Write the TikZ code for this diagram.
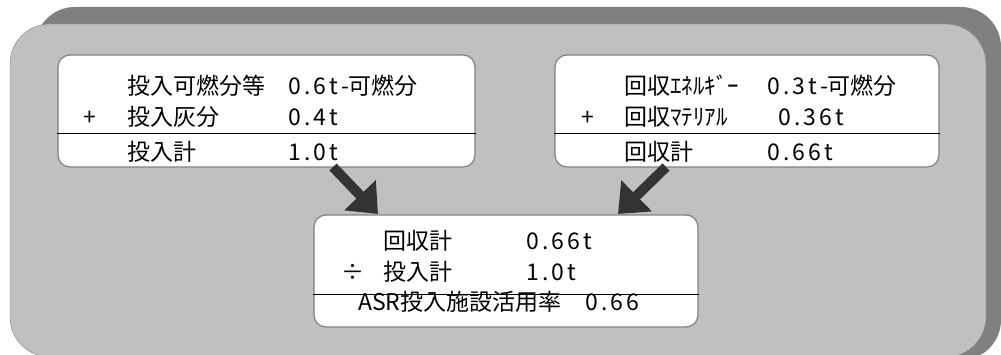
\documentclass[tikz,border=0pt]{standalone}
\usepackage{fontspec}
\setmainfont{Noto Sans CJK JP}
\newfontfamily\jpfont{Noto Sans CJK JP}
\newfontfamily\numfont{Noto Sans CJK JP}[LetterSpace=14]
\usetikzlibrary{arrows.meta,positioning,calc}
\definecolor{shadowgray}{HTML}{808080}
\definecolor{panelgray}{HTML}{C0C0C0}
\definecolor{arrowgray}{HTML}{333333}
\tikzset{
  sumbox/.style={draw=shadowgray,line width=1.2pt,fill=white,rounded corners=12pt,minimum width=#1,minimum height=112pt,inner sep=0pt},
  txt/.style={anchor=west,inner sep=0pt,font=\fontsize{23}{23}\selectfont,text height=0.88em,text depth=0.12em},
  num/.style={txt,font=\fontsize{23}{23}\selectfont\numfont},
  rule/.style={line width=1.2pt},
  flow/.style={arrowgray,line width=10pt,-{Triangle[length=26pt,width=42pt]}}
}

\begin{document}
\begin{tikzpicture}[x=1pt,y=-1pt]
  \useasboundingbox (0,0) rectangle (1001,355);
  \clip (0,0) rectangle (1001,355);
  \fill[shadowgray,rounded corners=40pt] (35,7) rectangle (1001,360);
  \draw[shadowgray,fill=panelgray,rounded corners=40pt] (10,24) rectangle (986,357);

  \node [sumbox=417pt] (input) at (266.5,111) {};
  \node [sumbox=384pt] (recovery) at (747,111) {};
  \node [sumbox=384pt] (rate) at (506,271) {};

  \draw [rule] ($(input.north west)+(0,79)$) -- ($(input.north east)+(0,79)$);
  \draw [rule] ($(recovery.north west)+(0,79)$) -- ($(recovery.north east)+(0,79)$);
  \draw [rule] ($(rate.north west)+(0,80)$) -- ($(rate.north east)+(0,80)$);

  \node [txt] (inA) at (127,91) {投入可燃分等};
  \node [num] (inAv) at (288,91) {0.6t-{\jpfont 可燃分}};
  \node [txt] (inPlus) at (83,122) {+};
  \node [txt] (inB) at (127,122) {投入灰分};
  \node [num] (inBv) at (288,122) {0.4t};
  \node [txt] (inSum) at (127,157) {投入計};
  \node [num] (inSumv) at (288,157) {1.0t};

  \node [txt] (recA) at (624,91) {回収ｴﾈﾙｷﾞｰ};
  \node [num] (recAv) at (767,91) {0.3t-{\jpfont 可燃分}};
  \node [txt] (recPlus) at (581,122) {+};
  \node [txt] (recB) at (624,122) {回収ﾏﾃﾘｱﾙ};
  \node [num] (recBv) at (778,122) {0.36t};
  \node [txt] (recSum) at (624,157) {回収計};
  \node [num] (recSumv) at (767,157) {0.66t};

  \node [txt] (rateA) at (383,246) {回収計};
  \node [num] (rateAv) at (526,246) {0.66t};
  \node [txt] (rateDiv) at (341,277) {÷};
  \node [txt] (rateB) at (383,277) {投入計};
  \node [num] (rateBv) at (526,277) {1.0t};
  \node [txt] (rateRes) at (358,307) {ASR投入施設活用率};
  \node [num] (rateResv) at (585,307) {0.66};

  \coordinate (inTail) at (333,167);
  \coordinate (inTip) at (378,214);
  \coordinate (recTail) at (666,167);
  \coordinate (recTip) at (618,214);
  \draw [flow] (inTail) -- (inTip);
  \draw [flow] (recTail) -- (recTip);
\end{tikzpicture}
\end{document}
